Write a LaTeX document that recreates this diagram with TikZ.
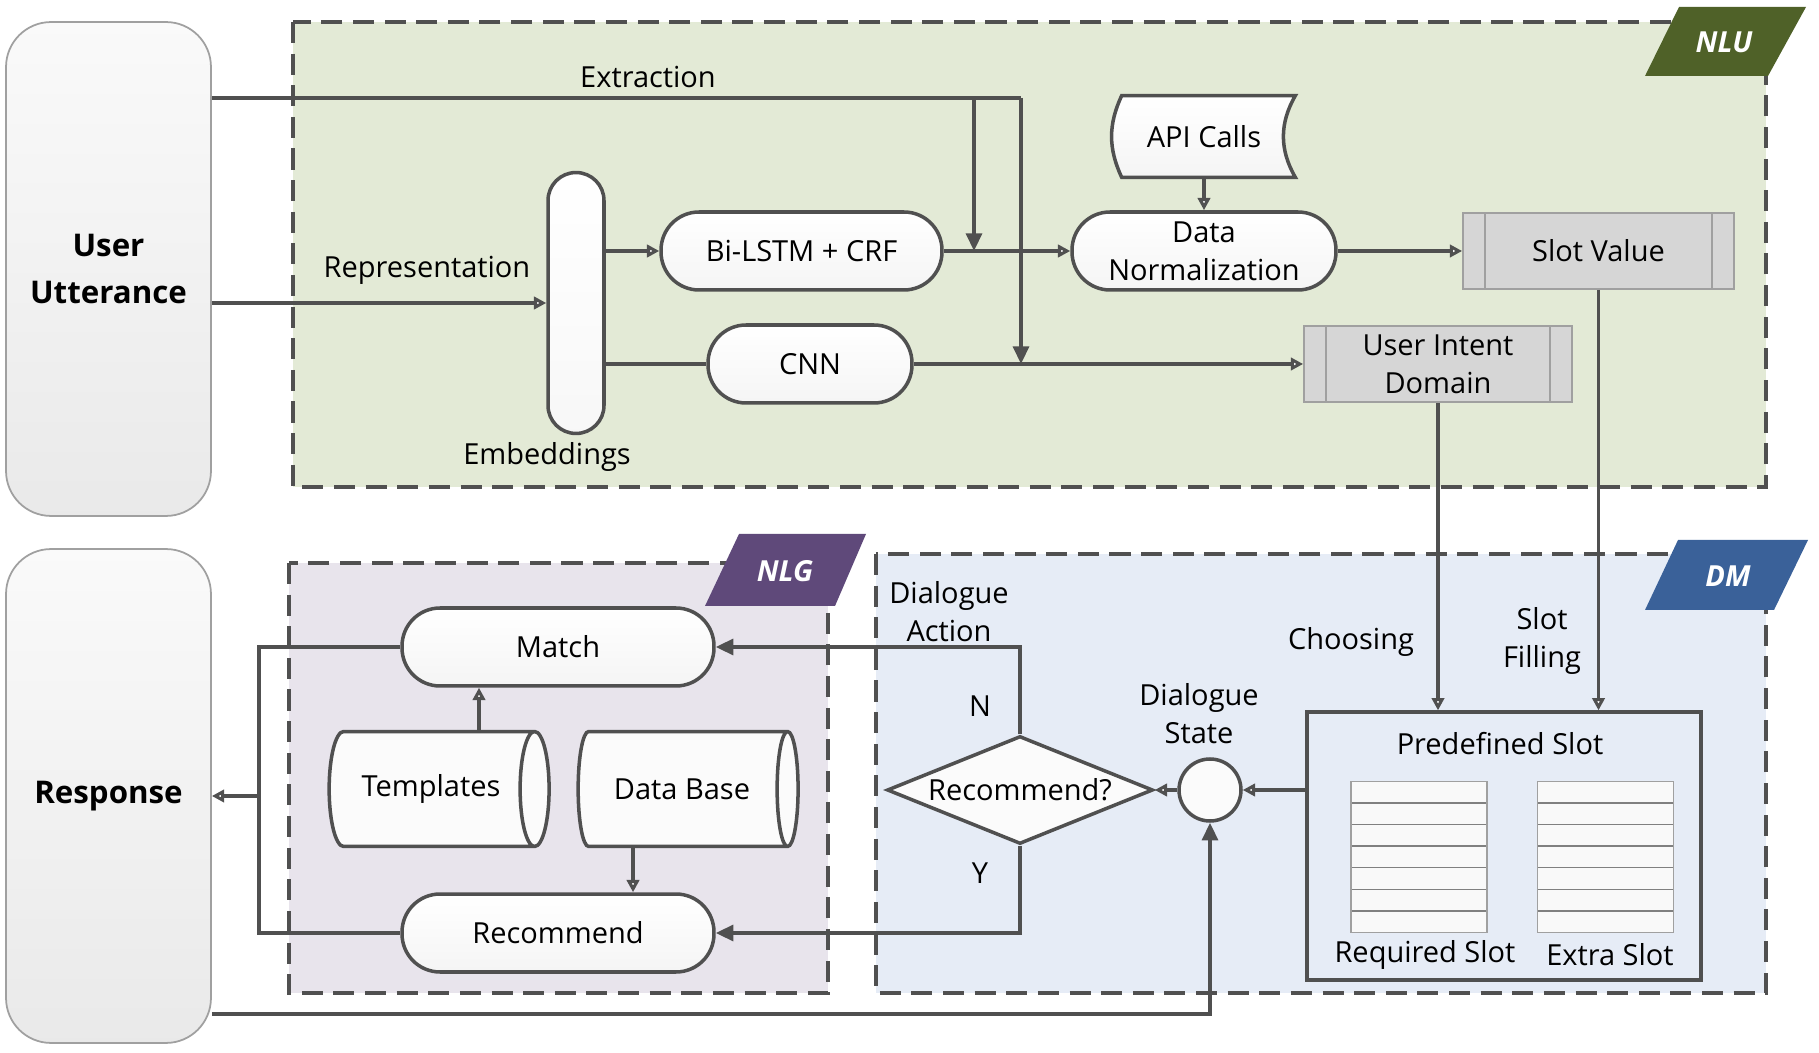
\documentclass[tikz,border=0pt]{standalone}
\usepackage{fontspec}
\setmainfont{Open Sans}
\usetikzlibrary{shapes.geometric, arrows.meta}

\begin{document}
\begin{tikzpicture}[x=0.02cm, y=-0.02cm, font=\fontsize{16.5}{21.5}\selectfont,
        line/.style={draw=linegray, line width=2pt},
        tip/.style={line, -{Triangle[length=7pt, width=7pt, fill=white]}},
        tipfill/.style={line, -{Triangle[length=10pt, width=9pt]}},
        region/.style={draw=linegray, line width=2.3pt, dash pattern=on 12pt off 6pt},
        tag/.style={text=white, font=\fontsize{16.5}{20}\selectfont\bfseries\itshape},
        side/.style={draw=edgegray, line width=1pt, rounded corners=0.9cm, top color=gray!4, bottom color=gray!17,
            minimum width=4.1cm, align=center, font=\fontsize{17.8}{27}\selectfont\bfseries},
        pill/.style={line, rounded corners=0.76cm, top color=white, bottom color=gray!8, minimum height=1.56cm,
            inner sep=0pt, align=center},
        predef/.style={draw=edgegray, line width=1pt, fill=boxgray, minimum height=1.52cm, inner sep=0pt, align=center,
            path picture={\draw[edgegray, line width=1pt]
                ([xshift=0.44cm]path picture bounding box.north west) -- ([xshift=0.44cm]path picture bounding box.south west)
                ([xshift=-0.44cm]path picture bounding box.north east) -- ([xshift=-0.44cm]path picture bounding box.south east);}},
        drum/.style={line, shape=cylinder, shape aspect=1, fill=gray!3, minimum width=2.3cm, minimum height=4.4cm, inner sep=0pt},
        slottable/.style={draw=edgegray, line width=0.8pt, fill=gray!5, minimum width=2.72cm, minimum height=3.03cm,
            path picture={\foreach \k in {1,...,6}
                \draw[gray, line width=0.8pt] ([yshift=-\k*0.4326cm]path picture bounding box.north west)
                    -- ([yshift=-\k*0.4326cm]path picture bounding box.north east);}}]
            \definecolor{linegray}{RGB}{80,80,80}
            \definecolor{edgegray}{RGB}{160,160,160}
            \definecolor{boxgray}{RGB}{214,214,214}
            \definecolor{nlufill}{RGB}{227,234,214}
            \definecolor{nlgfill}{RGB}{232,228,236}
            \definecolor{dmfill}{RGB}{230,236,246}
            \definecolor{nlushade}{RGB}{79,97,40}
            \definecolor{nlgshade}{RGB}{95,73,122}
            \definecolor{dmshade}{RGB}{58,97,153}

            \fill[white] (0,0) rectangle (1819,1053);
            \useasboundingbox (0,0) rectangle (1819,1053);

            \fill[nlufill] (293,22) rectangle (1766,487);
            \draw[region] (293,22) rectangle (1766,487);
            \fill[nlgfill] (289,563) rectangle (828,993);
            \draw[region] (289,563) rectangle (828,993);
            \fill[dmfill] (876,554) rectangle (1766,993);
            \draw[region] (876,554) rectangle (1766,993);

            \fill[nlushade] (1679,7) -- (1806,7) -- (1768,76) -- (1645,76) -- cycle;
            \node[tag] (nlutag) at (1724,42) {NLU};
            \fill[nlgshade] (739,534) -- (866,534) -- (835,606) -- (705,606) -- cycle;
            \node[tag] (nlgtag) at (785,571) {NLG};
            \fill[dmshade] (1678,540) -- (1808,540) -- (1774,610) -- (1645,610) -- cycle;
            \node[tag] (dmtag) at (1728,576) {DM};

            \node[side, minimum height=9.88cm] (user) at (108.5,269) {User\\Utterance};
            \node[side, minimum height=9.88cm] (response) at (108.5,796) {Response};

            \node[line, rounded corners=0.56cm, top color=white, bottom color=gray!6, minimum width=1.12cm,
                minimum height=5.22cm] (emb) at (576,303) {};
            \node[pill, minimum width=5.62cm] (bilstm) at (801.5,251) {Bi-LSTM + CRF};
            \node[pill, minimum width=5.28cm] (datanorm) at (1204,251) {Data\\Normalization};
            \node[pill, minimum width=4.08cm] (cnn) at (810,364) {CNN};
            \node[minimum width=3.64cm, minimum height=1.62cm, inner sep=0pt] (api) at (1204,136.5) {};
            \draw[line, top color=white, bottom color=gray!8] ([xshift=0.18cm]api.north west) -- (api.north east)
                to[bend right=30] (api.south east) -- ([xshift=0.18cm]api.south west) to[bend left=25] cycle;
            \node at (api) {API Calls};
            \node[predef, minimum width=5.42cm] (slotval) at (1598.5,251) {Slot Value};
            \node[predef, minimum width=5.36cm] (intent) at (1438,364) {User Intent\\Domain};

            \node[pill, minimum width=6.24cm] (match) at (558,647) {Match};
            \node[pill, minimum width=6.24cm] (recommend) at (558,933) {Recommend};
            \node[drum] (templates) at (431,789) {Templates};
            \node[drum] (database) at (682,789) {Data Base};

            \node[line, shape=diamond, aspect=2.46, fill=gray!3, minimum width=5.32cm, minimum height=2.16cm,
                inner sep=0pt] (dia) at (1020,790) {Recommend?};
            \node[line, circle, fill=gray!3, minimum size=1.24cm, inner sep=0pt] (state) at (1210,790) {};
            \node[line, line width=2.2pt, minimum width=7.88cm, minimum height=5.35cm] (slots) at (1504,846) {};
            \node (slotstitle) at (1500,744) {Predefined Slot};
            \node[slottable] (required) at (1419,857) {};
            \node[slottable] (extra) at (1605.5,857) {};
            \node (requiredname) at (1425,955) {Required Slot};
            \node (extraname) at (1610,955) {Extra Slot};

            \node (extraction) at (648,77) {Extraction};
            \node (representation) at (427,270) {Representation};
            \node (embname) at (547,457) {Embeddings};
            \node[align=center] (action) at (949,612) {Dialogue\\Action};
            \node (no) at (980,706) {N};
            \node (yes) at (980,873) {Y};
            \node[align=center] (statename) at (1199,714) {Dialogue\\State};
            \node (choosing) at (1351,642) {Choosing};
            \node[align=center] (filling) at (1542,641) {Slot\\Filling};

            \coordinate (extsplit) at (974,98);
            \coordinate (extend) at (1021,98);
            \coordinate (join) at (259,796);
            \coordinate (back) at (1210,1014);

            \draw[line] (user.east |- extend) -- (extend);
            \draw[tipfill] (extend) -- (extend |- cnn);
            \draw[tipfill] (extsplit) -- (extsplit |- bilstm);
            \draw[tip] (user.east |- emb) -- (emb.west);
            \draw[tip] (emb.east |- bilstm) -- (bilstm.west);
            \draw[line] (emb.east |- cnn) -- (cnn.west);
            \draw[tip] (bilstm) -- (datanorm);
            \draw[tip] (api.south) -- (datanorm.north);
            \draw[tip] (datanorm) -- (slotval);
            \draw[tip] (cnn) -- (intent);

            \draw[tip] (intent.south) -- (intent.south |- slots.north);
            \draw[tip] (slotval.south) -- (slotval.south |- slots.north);
            \draw[tip] (slots.west |- state) -- (state.east);
            \draw[tip] (state.west) -- (dia.east);
            \draw[tipfill] (dia.north) |- (match.east);
            \draw[tipfill] (dia.south) |- (recommend.east);

            \draw[tip] ([xshift=0.96cm]templates.north) -- ([xshift=0.96cm]templates.north |- match.south);
            \draw[tip] ([xshift=-0.98cm]database.south) -- ([xshift=-0.98cm]database.south |- recommend.north);
            \draw[line] (match.west) -| (join) |- (recommend.west);
            \draw[tip] (join) -- (join -| response.east);
            \draw[tipfill] (response.east |- back) -- (back) -- (state.south);
        \end{tikzpicture}
\end{document}
